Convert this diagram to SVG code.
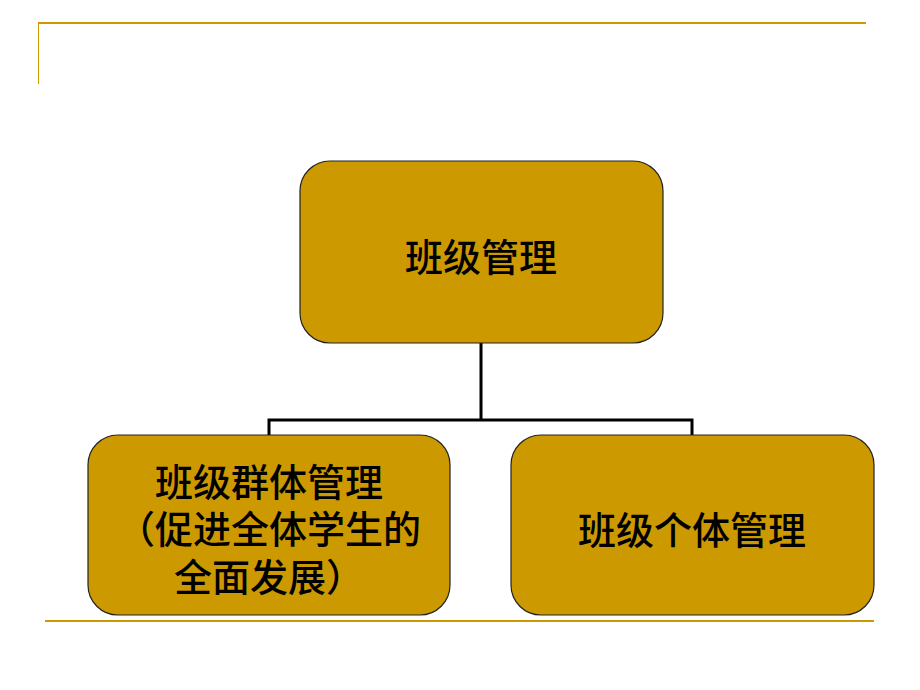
<svg xmlns="http://www.w3.org/2000/svg" width="920" height="690" viewBox="0 0 920 690">
<style>
.node rect{fill:#CC9900;stroke:#222;stroke-width:1.2}
.node text{font-family:"Noto Sans CJK SC","Noto Sans CJK JP",sans-serif;font-size:38px;font-weight:500;fill:#000;text-anchor:middle}
.conn{fill:none;stroke:#000;stroke-width:3}
.rule{stroke:#CC9900;fill:none}
</style>
<rect width="920" height="690" fill="#fff"/>
<g id="frame">
<line class="rule" x1="38" y1="23" x2="866" y2="23" stroke-width="2"/>
<line class="rule" x1="38.5" y1="23" x2="38.5" y2="84" stroke-width="1"/>
<line class="rule" x1="45" y1="621" x2="874" y2="621" stroke-width="2"/>
</g>
<g id="connectors">
<path class="conn" d="M481 343 V420 M269 435 V420 H692 V435"/>
</g>
<g id="root" class="node">
<rect x="300" y="161" width="363" height="182" rx="30" ry="30"/>
<text x="481" y="271">班级管理</text>
</g>
<g id="group" class="node">
<rect x="88" y="435" width="362" height="180" rx="30" ry="30"/>
<text x="269" y="496">班级群体管理<tspan x="269" dy="47">（促进全体学生的</tspan><tspan x="269" dy="48">全面发展）</tspan></text>
</g>
<g id="individual" class="node">
<rect x="511" y="435" width="363" height="180" rx="30" ry="30"/>
<text x="692" y="544">班级个体管理</text>
</g>
</svg>
